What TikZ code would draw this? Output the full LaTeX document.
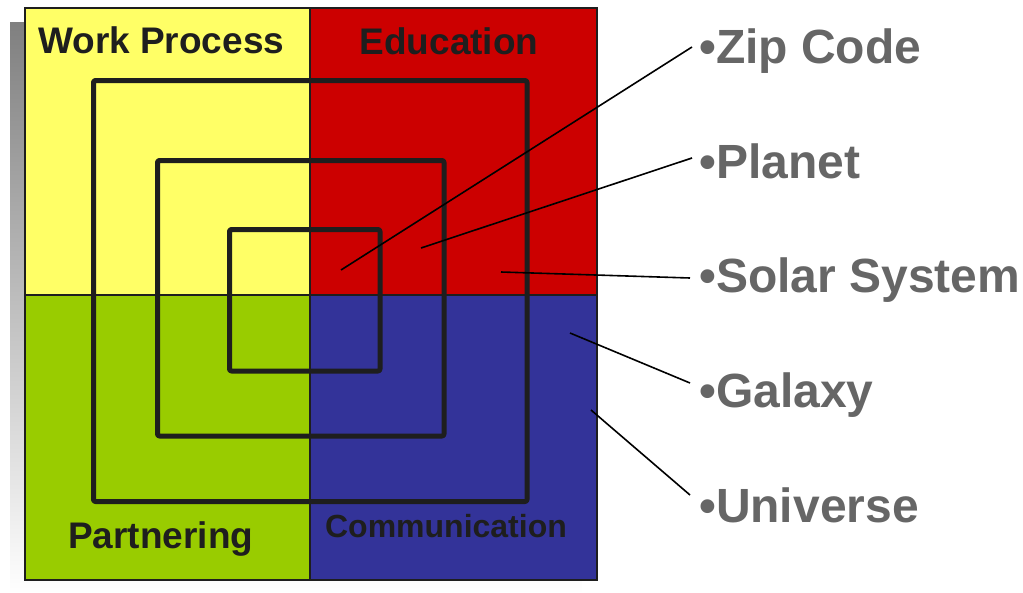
\documentclass[tikz,border=0pt]{standalone}
\usepackage{fontspec}
\setmainfont{Liberation Sans}
\definecolor{qyellow}{HTML}{FFFF66}
\definecolor{qred}{HTML}{CC0000}
\definecolor{qgreen}{HTML}{99CC00}
\definecolor{qblue}{HTML}{333399}
\definecolor{shade}{HTML}{C8C8C8}
\definecolor{frame}{HTML}{1E1E1E}
\definecolor{labelgray}{HTML}{666666}
\tikzset{
  quad/.style={draw=none},
  ring/.style={draw=frame, line width=5pt, rounded corners=2pt, line join=round},
  qlabel/.style={inner sep=0pt, text=frame, font=\bfseries\fontsize{37}{37}\selectfont},
  rlabel/.style={inner sep=0pt, anchor=base west, text=labelgray, font=\bfseries\fontsize{48}{48}\selectfont},
  pointer/.style={draw=black, line width=1.6pt}
}
\begin{document}
\begin{tikzpicture}[x=1pt, y=-1pt]
\useasboundingbox (0,0) rectangle (1023,592);
% shadow
\fill[shade] (10,22) rectangle (582,594);
% quadrants
\fill[qyellow] (25,8) rectangle (310,295);
\fill[qred] (310,8) rectangle (597,295);
\fill[qgreen] (25,295) rectangle (310,580);
\fill[qblue] (310,295) rectangle (597,580);
\draw[frame, line width=1.5pt] (310,8) -- (310,580);
\draw[frame, line width=1.5pt] (25,295) -- (597,295);
\draw[frame, line width=2pt] (25,8) rectangle (597,580);
% concentric squares
\draw[ring] (93.5,80.5) rectangle (527,501.5);
\draw[ring] (157.5,160.5) rectangle (444,436);
\draw[ring] (229.5,229.5) rectangle (380,371);
% quadrant labels
\node[qlabel, anchor=base west] (wp) at (38,53) {Work Process};
\node[qlabel, anchor=base] (ed) at (449,54) {Education};
\node[qlabel, anchor=base west] (pa) at (68,548) {Partnering};
\node[qlabel, anchor=base, font=\bfseries\fontsize{32}{32}\selectfont] (co) at (446,537) {Communication};
% right labels
\node[rlabel] (zip) at (699,63) {•Zip Code};
\node[rlabel] (planet) at (699,178) {•Planet};
\node[rlabel] (solar) at (699,292) {•Solar System};
\node[rlabel] (galaxy) at (699,407) {•Galaxy};
\node[rlabel] (universe) at (699,522) {•Universe};
% pointer ends
\coordinate (zipS) at (341,270);
\coordinate (zipE) at (692,47);
\coordinate (plS) at (421,248);
\coordinate (plE) at (692,158);
\coordinate (soS) at (501,272);
\coordinate (soE) at (690,278);
\coordinate (gaS) at (570,333);
\coordinate (gaE) at (690,383);
\coordinate (unS) at (591,410);
\coordinate (unE) at (690,495);
\draw[pointer] (zipS) -- (zipE);
\draw[pointer] (plS) -- (plE);
\draw[pointer] (soS) -- (soE);
\draw[pointer] (gaS) -- (gaE);
\draw[pointer] (unS) -- (unE);
\end{tikzpicture}
\end{document}
